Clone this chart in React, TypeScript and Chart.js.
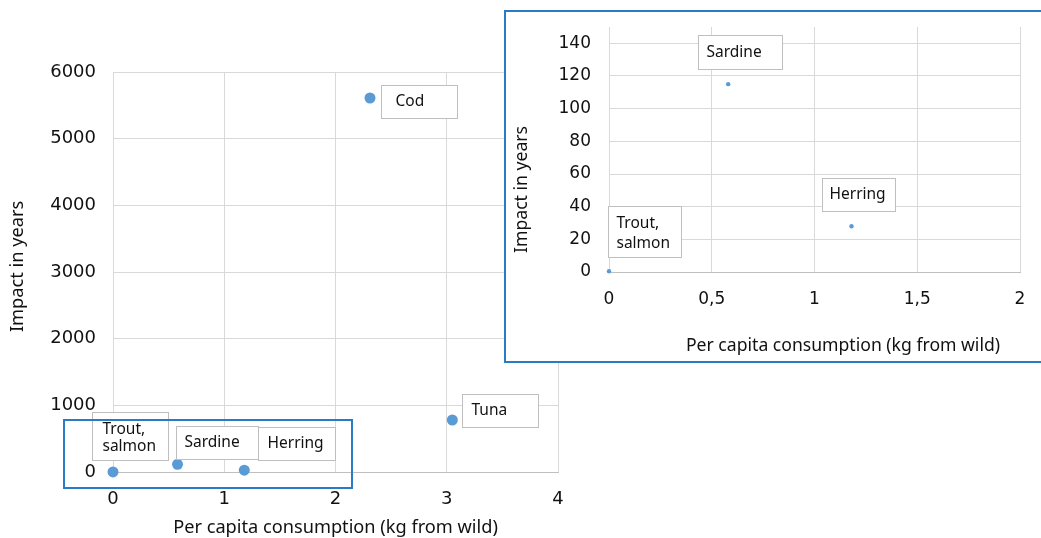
import { useEffect, useRef } from "react";
import { Chart, registerables } from "chart.js";

Chart.register(...registerables);

// ---------------- data ----------------
const species = ["Trout, salmon", "Sardine", "Herring", "Cod", "Tuna"];
const consumptionKg = [0, 0.58, 1.18, 2.31, 3.05];
const impactYears = [0.5, 115, 28, 5610, 780];

const insetSpecies = ["Trout, salmon", "Sardine", "Herring"];
const insetConsumptionKg = [0, 0.58, 1.18];
const insetImpactYears = [0.5, 115, 28];

const mainXTickLabels = ["0", "1", "2", "3", "4"];
const mainYTickLabels = ["0", "1000", "2000", "3000", "4000", "5000", "6000"];
const insetXTickLabels = ["0", "0,5", "1", "1,5", "2"];
const insetYTickLabels = ["0", "20", "40", "60", "80", "100", "120", "140"];

const xTitle = "Per capita consumption (kg from wild)";
const yTitle = "Impact in years";

// ---------------- styling / layout ----------------
const POINT_COLOR = "#5B9BD5";
const GRID = "#d9d9d9";
const AXIS = "#bfbfbf";
const TEXT = "#111111";
const FRAME = "#2a7bc6";
const TICK_FONT = "DejaVu Sans";
const TEXT_FONT = "Noto Sans";

const mainLabelBoxes = [
  { dx: -21, dy: -60, w: 76, h: 48, pad: 10 },
  { dx: -2, dy: -38, w: 82, h: 33, pad: 8 },
  { dx: 14, dy: -43, w: 77, h: 33, pad: 9 },
  { dx: 11, dy: -13, w: 76, h: 33, pad: 14 },
  { dx: 10, dy: -26, w: 76, h: 33, pad: 9 },
];
const insetLabelBoxes = [
  { dx: -1, dy: -65, w: 73, h: 51, pad: 8 },
  { dx: -30, dy: -49, w: 84, h: 34, pad: 8 },
  { dx: -29, dy: -48, w: 73, h: 33, pad: 7 },
];

const boxLabelPlugin = {
  id: "boxLabels",
  afterDatasetsDraw(chart: any, _args: any, opts: any) {
    if (!opts || !opts.names) return;
    const meta = chart.getDatasetMeta(0);
    const ctx = chart.ctx;
    ctx.save();
    ctx.font = opts.font;
    ctx.textBaseline = "middle";
    ctx.textAlign = "left";
    meta.data.forEach((pt: any, i: number) => {
      const b = opts.boxes[i];
      const x = Math.round(pt.x + b.dx) + 0.5;
      const y = Math.round(pt.y + b.dy) + 0.5;
      ctx.fillStyle = "#ffffff";
      ctx.fillRect(x, y, b.w, b.h);
      ctx.strokeStyle = AXIS;
      ctx.lineWidth = 1;
      ctx.strokeRect(x, y, b.w, b.h);
      const lines = String(opts.names[i]).replace(", ", ",\n").split("\n");
      const lh = opts.lineHeight;
      const cy = y + b.h / 2 - ((lines.length - 1) * lh) / 2 + (lines.length > 1 ? 2 : 0);
      ctx.fillStyle = TEXT;
      lines.forEach((ln: string, k: number) => ctx.fillText(ln, x + b.pad, cy + k * lh));
    });
    ctx.restore();
  },
};

const axisTitlePlugin = {
  id: "axisTitles",
  afterDraw(chart: any, _args: any, opts: any) {
    if (!opts || !opts.x) return;
    const ctx = chart.ctx;
    const a = chart.chartArea;
    ctx.save();
    ctx.font = opts.font;
    ctx.fillStyle = TEXT;
    ctx.textAlign = "center";
    ctx.textBaseline = "middle";
    ctx.fillText(opts.x, (a.left + a.right) / 2 + opts.xdx, a.bottom + opts.xdy);
    ctx.translate(opts.ycx, (a.top + a.bottom) / 2 + opts.ydy);
    ctx.rotate(-Math.PI / 2);
    ctx.fillText(opts.y, 0, 0);
    ctx.restore();
  },
};

const noScalePadding = (s: any) => {
  s.paddingTop = 0;
  s.paddingBottom = 0;
};

export default function App() {
  const mainRef = useRef<HTMLCanvasElement | null>(null);
  const insetRef = useRef<HTMLCanvasElement | null>(null);

  useEffect(() => {
    const tickFont = (size: number) => ({ family: TICK_FONT, size });

    const main = new Chart(mainRef.current as HTMLCanvasElement, {
      type: "scatter",
      data: {
        datasets: [
          {
            data: consumptionKg.map((x, i) => ({ x, y: impactYears[i] })),
            backgroundColor: POINT_COLOR,
            borderWidth: 0,
            pointRadius: 5.5,
            clip: false,
          },
        ],
      },
      options: {
        animation: false,
        responsive: false,
        events: [],
        layout: { padding: { left: 0, top: 72, right: 483, bottom: 0 } },
        plugins: {
          legend: { display: false },
          tooltip: { enabled: false },
          boxLabels: {
            names: species,
            boxes: mainLabelBoxes,
            font: `15.5px "${TEXT_FONT}"`,
            lineHeight: 17,
          },
          axisTitles: {
            x: xTitle,
            y: yTitle,
            font: `18.2px "${TEXT_FONT}"`,
            xdx: 0,
            xdy: 55.5,
            ycx: 18,
            ydy: -5.5,
          },
        } as any,
        scales: {
          x: {
            type: "linear",
            min: 0,
            max: 4,
            ticks: {
              stepSize: 1,
              padding: 17,
              color: TEXT,
              font: tickFont(18),
              maxRotation: 0,
              autoSkip: false,
              callback: (_v: any, i: number) => mainXTickLabels[i],
            },
            grid: { color: GRID, drawTicks: false },
            border: { color: AXIS },
            afterFit: (s: any) => {
              s.height = 66;
            },
          },
          y: {
            type: "linear",
            min: 0,
            max: 6000,
            ticks: {
              stepSize: 1000,
              padding: 17,
              color: TEXT,
              font: tickFont(18),
              autoSkip: false,
              callback: (_v: any, i: number) => mainYTickLabels[i],
            },
            grid: { color: GRID, drawTicks: false },
            border: { color: GRID },
            afterFit: (s: any) => {
              s.width = 113;
              noScalePadding(s);
            },
          },
        },
      } as any,
      plugins: [boxLabelPlugin, axisTitlePlugin],
    });

    const inset = new Chart(insetRef.current as HTMLCanvasElement, {
      type: "scatter",
      data: {
        datasets: [
          {
            data: insetConsumptionKg.map((x, i) => ({ x, y: insetImpactYears[i] })),
            backgroundColor: POINT_COLOR,
            borderWidth: 0,
            pointRadius: 2.2,
            clip: false,
          },
        ],
      },
      options: {
        animation: false,
        responsive: false,
        events: [],
        layout: { padding: { left: 0, top: 16, right: 105, bottom: 0 } },
        plugins: {
          legend: { display: false },
          tooltip: { enabled: false },
          boxLabels: {
            names: insetSpecies,
            boxes: insetLabelBoxes,
            font: `15.5px "${TEXT_FONT}"`,
            lineHeight: 20,
          },
          axisTitles: {
            x: xTitle,
            y: yTitle,
            font: `17.6px "${TEXT_FONT}"`,
            xdx: 28.5,
            xdy: 74,
            ycx: 17,
            ydy: 40,
          },
        } as any,
        scales: {
          x: {
            type: "linear",
            min: 0,
            max: 2,
            ticks: {
              stepSize: 0.5,
              padding: 17.5,
              color: TEXT,
              font: tickFont(17),
              maxRotation: 0,
              autoSkip: false,
              callback: (_v: any, i: number) => insetXTickLabels[i],
            },
            grid: { color: GRID, drawTicks: false },
            border: { color: AXIS },
            afterFit: (s: any) => {
              s.height = 90;
            },
          },
          y: {
            type: "linear",
            min: 0,
            max: 150,
            ticks: {
              stepSize: 20,
              padding: 18,
              color: TEXT,
              font: tickFont(17),
              autoSkip: false,
              callback: (_v: any, i: number) => insetYTickLabels[i],
            },
            afterBuildTicks: (s: any) => {
              s.ticks = insetYTickLabels.map((l) => ({ value: Number(l) }));
            },
            grid: { color: GRID, drawTicks: false },
            border: { color: GRID },
            afterFit: (s: any) => {
              s.width = 104;
              noScalePadding(s);
            },
          },
        },
      } as any,
      plugins: [boxLabelPlugin, axisTitlePlugin],
    });

    return () => {
      main.destroy();
      inset.destroy();
    };
  }, []);

  return (
    <div
      style={{
        position: "fixed",
        left: 0,
        top: 0,
        width: 1041,
        height: 538,
        overflow: "hidden",
        background: "#ffffff",
      }}
    >
      <canvas
        ref={mainRef}
        width={1041}
        height={538}
        style={{ position: "absolute", left: 0, top: 0 }}
      />
      <div
        style={{
          position: "absolute",
          left: 63,
          top: 419,
          width: 290,
          height: 70,
          border: `2px solid ${FRAME}`,
          boxSizing: "border-box",
        }}
      />
      <div
        style={{
          position: "absolute",
          left: 504,
          top: 10,
          width: 620,
          height: 353,
          border: `2px solid ${FRAME}`,
          boxSizing: "border-box",
          background: "#ffffff",
        }}
      />
      <canvas
        ref={insetRef}
        width={620}
        height={351}
        style={{ position: "absolute", left: 505, top: 11 }}
      />
    </div>
  );
}
